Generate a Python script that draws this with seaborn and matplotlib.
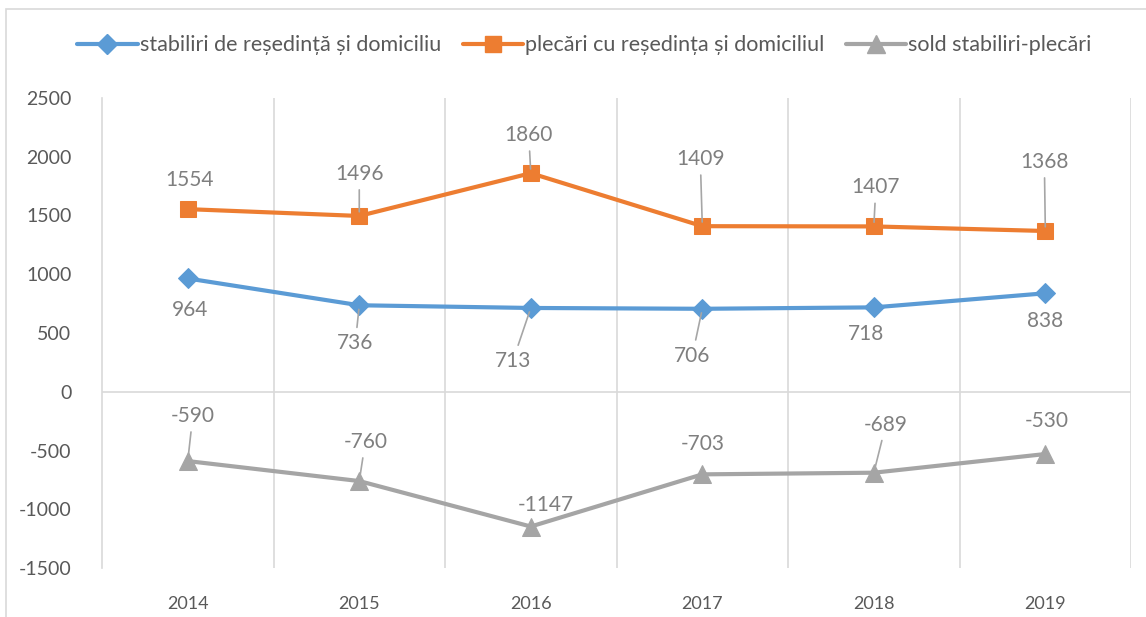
import numpy as np
import pandas as pd
import matplotlib
matplotlib.use("Agg")
import matplotlib.pyplot as plt
from matplotlib.lines import Line2D
from matplotlib.patches import Rectangle
import seaborn as sns

years = [2014, 2015, 2016, 2017, 2018, 2019]
stabiliri = [964, 736, 713, 706, 718, 838]
plecari = [1554, 1496, 1860, 1409, 1407, 1368]
sold = [-590, -760, -1147, -703, -689, -530]

names = ["stabiliri de reședință și domiciliu",
         "plecări cu reședința și domiciliul",
         "sold stabiliri-plecări"]
colors = ["#5B9BD5", "#ED7D31", "#A5A5A5"]
markers = ["D", "s", "^"]
msizes = [10, 12, 13]

# label offsets in pixels (dx, dy), dy positive = up
offsets = [
    [(2, -32), (-4, -38), (-18, -53), (-10, -47), (-8, -27), (0, -28)],
    [(2, 29), (0, 42), (-2, 38), (-2, 67), (2, 39), (-1, 69)],
    [(5, 45), (6, 39), (15, 22), (0, 30), (12, 48), (1, 33)],
]

sns.set_theme(style="white")
plt.rcParams['font.family'] = ['Lato', 'DejaVu Sans']
plt.rcParams['axes.unicode_minus'] = False

fig = plt.figure(figsize=(11.46, 6.17), dpi=100)
ax = fig.add_axes([0.089, 0.0794, 0.898, 0.7618])

fig.patches.append(Rectangle((6 / 1146, -0.1), 1.2, 1 - 9 / 617 + 0.1,
                             transform=fig.transFigure, fill=False,
                             edgecolor="#d9d9d9", linewidth=1.2, zorder=0))

df = pd.DataFrame({"year": years})
for i, vals in enumerate([stabiliri, plecari, sold]):
    df["v"] = vals
    sns.lineplot(data=df, x="year", y="v", ax=ax, color=colors[i],
                 marker=markers[i], markersize=msizes[i], linewidth=3,
                 markeredgecolor=colors[i], zorder=3)
    for j, (x, y) in enumerate(zip(years, vals)):
        dx, dy = offsets[i][j]
        arrow = None
        if np.hypot(dx, dy) > 34:
            arrow = dict(arrowstyle="-", color="#a6a6a6", lw=1.2,
                         shrinkA=2, shrinkB=3)
        ax.annotate(str(y), (x, y), xytext=(dx, dy), textcoords="offset pixels",
                    ha="center", va="center", fontsize=15, color="#7f7f7f",
                    arrowprops=arrow, zorder=4,
                    bbox=dict(boxstyle="square,pad=0.15", fc="none", ec="none"))

ax.set_xlim(2013.5, 2019.5)
ax.set_ylim(-1500, 2500)
ax.set_yticks(np.arange(-1500, 2501, 500))
ax.set_xticks(years)
ax.set_xticklabels([str(y) for y in years])
ax.set_xlabel("")
ax.set_ylabel("")
for xb in np.arange(2014.5, 2019.6, 1):
    ax.axvline(xb, color="#d9d9d9", linewidth=1.2, zorder=1)
ax.axhline(0, color="#d9d9d9", linewidth=1.2, zorder=1)

for s in ["top", "right", "bottom"]:
    ax.spines[s].set_visible(False)
ax.spines["left"].set_color("#d9d9d9")
ax.spines["left"].set_linewidth(1.2)

ax.tick_params(axis="y", labelsize=14, labelcolor="#595959", length=0, pad=22)
ax.tick_params(axis="x", labelsize=13, labelcolor="#595959", length=0, pad=20)

handles = [Line2D([0], [0], color=c, marker=m, markersize=ms, linewidth=3)
           for c, m, ms in zip(colors, markers, msizes)]
fig.legend(handles, names, loc="center", bbox_to_anchor=(0.51, 0.927),
           ncol=3, frameon=False, fontsize=15.5, handlelength=2.8,
           handletextpad=0.1, columnspacing=1.0, labelcolor="#595959")

fig.savefig("out.png", dpi=100, facecolor="white")
